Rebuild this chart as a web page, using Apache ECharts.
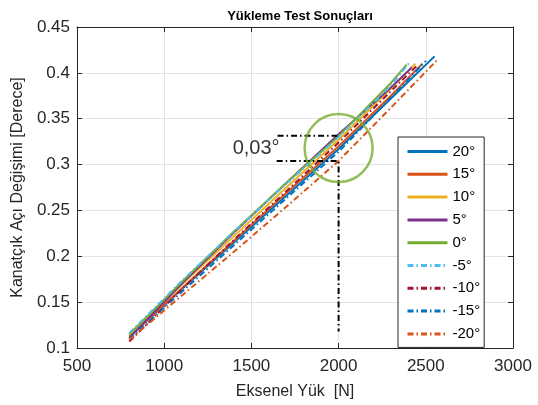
<!DOCTYPE html>
<html>
<head>
<meta charset="utf-8">
<script src="https://cdn.jsdelivr.net/npm/echarts@6/dist/echarts.min.js"></script>
<style>
  html, body { margin: 0; padding: 0; background: #fff; }
  #chart { width: 538px; height: 405px; }
</style>
</head>
<body>
<div id="chart"></div>
<script>
// shared load points (N), last point of each series is at its own end load
const loadSteps = [800, 1100, 1400, 1700, 2000, 2300];
const angleNames = ['20°', '15°', '10°', '5°', '0°', '-5°', '-10°', '-15°', '-20°'];
const endLoads = [2550, 2480, 2440, 2420, 2390, 2410, 2450, 2500, 2565];

// flap angle change (deg) at loadSteps + end load
const defl20 = [0.113, 0.164, 0.215, 0.266, 0.317, 0.372, 0.418];
const defl15 = [0.112, 0.165, 0.217, 0.269, 0.320, 0.375, 0.410];
const defl10 = [0.114, 0.169, 0.222, 0.275, 0.327, 0.383, 0.410];
const defl5 = [0.111, 0.170, 0.226, 0.280, 0.333, 0.384, 0.406];
const defl0 = [0.115, 0.172, 0.227, 0.280, 0.331, 0.389, 0.409];
const deflM5 = [0.1165, 0.173, 0.227, 0.279, 0.330, 0.386, 0.412];
const deflM10 = [0.107, 0.164, 0.218, 0.271, 0.324, 0.380, 0.408];
const deflM15 = [0.110, 0.161, 0.212, 0.263, 0.314, 0.373, 0.413];
const deflM20 = [0.109, 0.157, 0.205, 0.254, 0.304, 0.362, 0.414];

const colors = ['#0072BD', '#D95319', '#EDB120', '#7E2F8E', '#77AC30', '#4DBEEE', '#A2142F', '#0072BD', '#D95319'];
const dashed = [false, false, false, false, false, true, true, true, true];

// annotation marks
const upperMarkX = [1650, 2000];
const upperMarkY = 0.3313;
const lowerMarkX = [1645, 2000];
const lowerMarkY = 0.304;
const vertMarkY = [0.304, 0.118];
const circleCenter = [2000, 0.318];
const noteText = '0,03°';
const notePos = [1527, 0.318];

const allDefl = [defl20, defl15, defl10, defl5, defl0, deflM5, deflM10, deflM15, deflM20];
const dashDot = [6, 3, 1.5, 3];

const curveSeries = angleNames.map((name, i) => ({
  name,
  type: 'line',
  symbol: 'none',
  data: allDefl[i].map((v, k) => [k < loadSteps.length ? loadSteps[k] : endLoads[i], v]),
  lineStyle: { color: colors[i], width: 2, type: dashed[i] ? dashDot : 'solid' },
  itemStyle: { color: colors[i] },
  z: 3
}));

const markStyle = { color: '#000', width: 2, type: dashDot };

const chart = echarts.init(document.getElementById('chart'));
const axisColor = '#262626';
const fontFam = 'Liberation Sans, Arial, sans-serif';

chart.setOption({
  animation: false,
  textStyle: { fontFamily: fontFam },
  title: {
    text: 'Yükleme Test Sonuçları',
    left: 295, top: 5, textAlign: 'center',
    textStyle: { fontSize: 13, fontWeight: 'bold', color: '#000', fontFamily: fontFam }
  },
  grid: { left: 77, right: 25, top: 27, bottom: 57 },
  legend: {
    data: angleNames,
    orient: 'vertical',
    left: 398, top: 137,
    padding: [7, 4, 6, 8],
    itemWidth: 40, itemHeight: 14, itemGap: 7.8,
    backgroundColor: '#fff',
    borderColor: axisColor, borderWidth: 1,
    lineStyle: { width: 3 },
    itemStyle: { opacity: 0 },
    textStyle: { fontSize: 15, color: '#000', lineHeight: 14, fontFamily: fontFam }
  },
  xAxis: [
    {
      type: 'value', min: 500, max: 3000, interval: 500,
      name: 'Eksenel Yük  [N]', nameLocation: 'middle', nameGap: 36,
      nameTextStyle: { fontSize: 16, color: '#262626' },
      axisLine: { lineStyle: { color: axisColor } },
      axisTick: { inside: true, length: 5, lineStyle: { color: axisColor } },
      axisLabel: { fontSize: 17, color: '#262626', margin: 10, formatter: v => String(v) },
      splitLine: { lineStyle: { color: '#e3e3e3' } }
    },
    {
      type: 'value', min: 500, max: 3000, interval: 500, position: 'top',
      axisLine: { lineStyle: { color: axisColor } },
      axisTick: { inside: true, length: 5, lineStyle: { color: axisColor } },
      axisLabel: { show: false }, splitLine: { show: false }
    }
  ],
  yAxis: [
    {
      type: 'value', min: 0.1, max: 0.45, interval: 0.05,
      name: 'Kanatçık Açı Değişimi [Derece]', nameLocation: 'middle', nameGap: 50,
      nameTextStyle: { fontSize: 16, color: '#262626' },
      axisLine: { show: true, lineStyle: { color: axisColor } },
      axisTick: { show: true, inside: true, length: 5, lineStyle: { color: axisColor } },
      axisLabel: { fontSize: 17, color: '#262626', margin: 7, formatter: v => String(+v.toFixed(2)) },
      splitLine: { lineStyle: { color: '#e3e3e3' } }
    },
    {
      type: 'value', min: 0.1, max: 0.45, interval: 0.05, position: 'right',
      axisLine: { show: true, lineStyle: { color: axisColor } },
      axisTick: { show: true, inside: true, length: 5, lineStyle: { color: axisColor } },
      axisLabel: { show: false }, splitLine: { show: false }
    }
  ],
  series: [
    ...curveSeries,
    {
      type: 'line', symbol: 'none', z: 4,
      data: upperMarkX.map(x => [x, upperMarkY]),
      lineStyle: markStyle
    },
    {
      type: 'line', symbol: 'none', z: 4,
      data: [[lowerMarkX[0], lowerMarkY], [lowerMarkX[1], lowerMarkY], [lowerMarkX[1], vertMarkY[1]]],
      lineStyle: markStyle
    },
    {
      type: 'scatter', z: 5, symbol: 'circle', symbolSize: 68,
      data: [circleCenter],
      itemStyle: { color: 'rgba(0,0,0,0)', borderColor: '#77AC30', borderWidth: 2.5 }
    },
    {
      type: 'scatter', z: 5, symbolSize: 1,
      data: [notePos],
      itemStyle: { color: 'rgba(0,0,0,0)' },
      label: { show: true, position: 'inside', formatter: noteText, fontSize: 20, color: '#000', fontFamily: fontFam }
    }
  ]
});
</script>
</body>
</html>
